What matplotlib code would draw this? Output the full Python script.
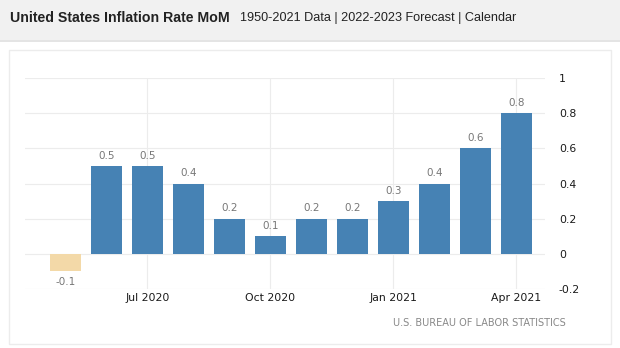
import matplotlib.pyplot as plt
from matplotlib.patches import Rectangle

# data
months = ["May 2020", "Jun 2020", "Jul 2020", "Aug 2020", "Sep 2020", "Oct 2020",
          "Nov 2020", "Dec 2020", "Jan 2021", "Feb 2021", "Mar 2021", "Apr 2021"]
values = [-0.1, 0.5, 0.5, 0.4, 0.2, 0.1, 0.2, 0.2, 0.3, 0.4, 0.6, 0.8]
tick_months = ["Jul 2020", "Oct 2020", "Jan 2021", "Apr 2021"]
y_ticks = [-0.2, 0, 0.2, 0.4, 0.6, 0.8, 1]
y_tick_labels = ["-0.2", "0", "0.2", "0.4", "0.6", "0.8", "1"]

fig = plt.figure(figsize=(6.2, 3.48), dpi=100)
fig.patch.set_facecolor("white")

# header band
fig.patches.append(Rectangle((0, 1 - 40 / 348), 1, 40 / 348, transform=fig.transFigure,
                             facecolor="#f1f1f1", edgecolor="none", zorder=0))
fig.patches.append(Rectangle((0, 1 - 42 / 348), 1, 2 / 348, transform=fig.transFigure,
                             facecolor="#e4e4e4", edgecolor="none", zorder=0))
fig.text(10 / 620, 1 - 18 / 348, "United States Inflation Rate MoM", fontsize=10.2,
         fontweight="bold", family="Liberation Sans", color="#222222", va="center")
fig.text(240 / 620, 1 - 18 / 348, "1950-2021 Data | 2022-2023 Forecast | Calendar",
         fontsize=9.1, family="Liberation Sans", color="#222222", va="center")

# white panel with faint border
fig.patches.append(Rectangle((9 / 620, 1 - 344 / 348), 602 / 620, 294 / 348,
                             transform=fig.transFigure, facecolor="white",
                             edgecolor="#ececec", linewidth=1, zorder=0))

ax = fig.add_axes([25 / 620, 59 / 348, 520 / 620, 211 / 348])
ax.set_facecolor("none")
ax.set_zorder(2)

x = list(range(len(months)))
colors = ["#f3d9a8" if v < 0 else "#4682b4" for v in values]
ax.bar(x, values, width=0.75, color=colors, zorder=2)

for xi, v in zip(x, values):
    if v < 0:
        ax.text(xi, v - 0.03, f"{v:g}", ha="center", va="top", fontsize=7.5, color="#777777")
    else:
        ax.text(xi, v + 0.03, f"{v:g}", ha="center", va="bottom", fontsize=7.5, color="#777777")

ax.set_xlim(-0.98, 11.7)
ax.set_ylim(-0.2, 1)

ax.set_xticks([months.index(m) for m in tick_months])
ax.set_xticklabels(tick_months, fontsize=7.8, color="#1a1a1a")
ax.yaxis.tick_right()
ax.set_yticks(y_ticks)
ax.set_yticklabels(y_tick_labels, fontsize=7.8, color="#1a1a1a")
ax.tick_params(axis="x", length=0, pad=3)
ax.tick_params(axis="y", length=0, pad=10)

ax.grid(True, color="#ececec", linewidth=0.8, zorder=0)
for s in ax.spines.values():
    s.set_visible(False)

fig.text(566 / 620, 1 - 323 / 348, "U.S. BUREAU OF LABOR STATISTICS", fontsize=7,
         color="#888888", ha="right", va="center", zorder=3)

fig.savefig("out.png", dpi=100)
